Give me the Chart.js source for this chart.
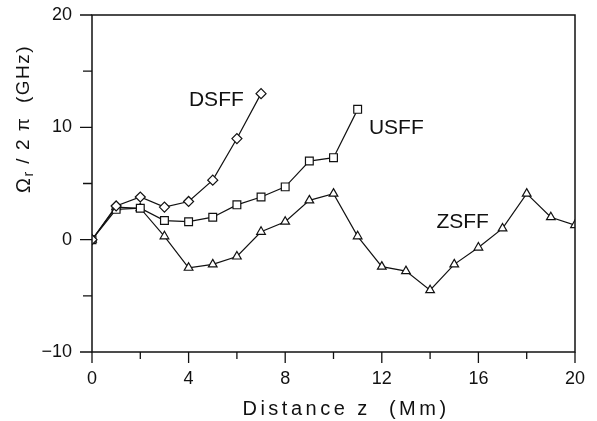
<!DOCTYPE html>
<html>
<head>
<meta charset="utf-8">
<script src="https://cdn.jsdelivr.net/npm/chart.js@4.4.7/dist/chart.umd.min.js"></script>
<style>
  html, body { margin: 0; padding: 0; background: #fff; }
  #wrap { width: 597px; height: 421px; position: relative; }
</style>
</head>
<body>
<div id="wrap"><canvas id="chart"></canvas></div>
<script>
  // distance z (Mm) and omega_r / 2pi (GHz)
  var zValues = [0, 1, 2, 3, 4, 5, 6, 7, 8, 9, 10, 11, 12, 13, 14, 15, 16, 17, 18, 19, 20];
  var dsff = [0, 3.0, 3.8, 2.9, 3.4, 5.3, 9.0, 13.0];
  var usff = [0, 2.7, 2.8, 1.7, 1.6, 2.0, 3.1, 3.8, 4.7, 7.0, 7.3, 11.6];
  var zsff = [0, 2.9, 2.8, 0.3, -2.5, -2.2, -1.5, 0.7, 1.6, 3.5, 4.1, 0.3, -2.4, -2.8, -4.5, -2.2, -0.7, 1.0, 4.1, 2.0, 1.3];

  var xTicks = [0, 4, 8, 12, 16, 20];
  var yTicks = [-10, 0, 10, 20];

  var seriesNames = ["DSFF", "USFF", "ZSFF"];
  var seriesLabelAt = [[5.15, 12.4], [12.6, 9.9], [15.35, 1.55]];

  var INK = "#111";
  var FONT = "'Liberation Sans', Arial, sans-serif";

  function toPoints(values) {
    return values.map(function (v, i) { return { x: zValues[i], y: v }; });
  }

  function makeSet(name, values, style, radius) {
    return {
      label: name,
      data: toPoints(values),
      borderColor: INK,
      borderWidth: 1.2,
      pointStyle: style,
      pointRadius: radius,
      pointBorderWidth: 1.2,
      pointBorderColor: INK,
      pointBackgroundColor: "#fff",
      tension: 0,
      fill: false,
    };
  }

  // frame, ticks, tick labels and titles in the style of the old plot
  var framePlugin = {
    id: "frame",
    afterDraw: function (chart) {
      var ctx = chart.ctx;
      var a = chart.chartArea;
      var xs = chart.scales.x;
      var ys = chart.scales.y;
      ctx.save();
      ctx.strokeStyle = INK;
      ctx.lineWidth = 1.5;
      ctx.strokeRect(a.left, a.top, a.right - a.left, a.bottom - a.top);

      ctx.lineWidth = 1.3;
      ctx.beginPath();
      for (var v = -10; v <= 20; v += 5) {
        var py = ys.getPixelForValue(v);
        var len = v % 10 === 0 ? 12 : 9;
        ctx.moveTo(a.left - len, py);
        ctx.lineTo(a.left, py);
      }
      for (var z = 0; z <= 20; z += 2) {
        var px = xs.getPixelForValue(z);
        var l2 = z % 4 === 0 ? 11 : 7;
        ctx.moveTo(px, a.bottom);
        ctx.lineTo(px, a.bottom + l2);
      }
      ctx.stroke();

      ctx.fillStyle = INK;
      ctx.font = "18px " + FONT;
      ctx.textBaseline = "middle";
      ctx.textAlign = "right";
      yTicks.forEach(function (t) {
        ctx.fillText(t < 0 ? "\u2212" + Math.abs(t) : String(t), a.left - 20, ys.getPixelForValue(t));
      });
      ctx.textAlign = "center";
      xTicks.forEach(function (t) {
        ctx.fillText(String(t), xs.getPixelForValue(t), a.bottom + 27);
      });

      // series names
      ctx.font = "21px " + FONT;
      seriesNames.forEach(function (n, i) {
        ctx.fillText(n, xs.getPixelForValue(seriesLabelAt[i][0]), ys.getPixelForValue(seriesLabelAt[i][1]));
      });

      // x title
      ctx.font = "20px " + FONT;
      ctx.letterSpacing = "3.5px";
      ctx.fillText("Distance z  (Mm)", 346, 409);

      // y title with subscript
      ctx.letterSpacing = "1.5px";
      ctx.translate(24, 119);
      ctx.rotate(-Math.PI / 2);
      var parts = [
        { t: "\u03A9", f: "20px " + FONT, dy: 0 },
        { t: "r", f: "14px " + FONT, dy: 5 },
        { t: " / 2 \u03C0  (GHz)", f: "19px " + FONT, dy: 0 },
      ];
      var total = 0;
      parts.forEach(function (p) { ctx.font = p.f; p.w = ctx.measureText(p.t).width; total += p.w; });
      var x0 = -total / 2;
      ctx.textAlign = "left";
      parts.forEach(function (p) {
        ctx.font = p.f;
        ctx.fillText(p.t, x0, p.dy);
        x0 += p.w;
      });
      ctx.restore();
    },
  };

  new Chart(document.getElementById("chart"), {
    type: "line",
    data: {
      datasets: [
        makeSet("DSFF", dsff, "rectRot", 5),
        makeSet("USFF", usff, "rect", 5.5),
        makeSet("ZSFF", zsff, "triangle", 5),
      ],
    },
    options: {
      responsive: true,
      maintainAspectRatio: false,
      animation: false,
      layout: { padding: { top: 15, right: 22, left: 0, bottom: 0 } },
      plugins: { legend: { display: false }, tooltip: { enabled: false } },
      scales: {
        x: {
          type: "linear",
          min: 0,
          max: 20,
          afterFit: function (s) { s.height = 69; },
          grid: { display: false },
          border: { display: false },
          ticks: { display: false },
        },
        y: {
          min: -10,
          max: 20,
          afterFit: function (s) { s.width = 92; },
          grid: { display: false },
          border: { display: false },
          ticks: { display: false },
        },
      },
    },
    plugins: [framePlugin],
  });
</script>
</body>
</html>
